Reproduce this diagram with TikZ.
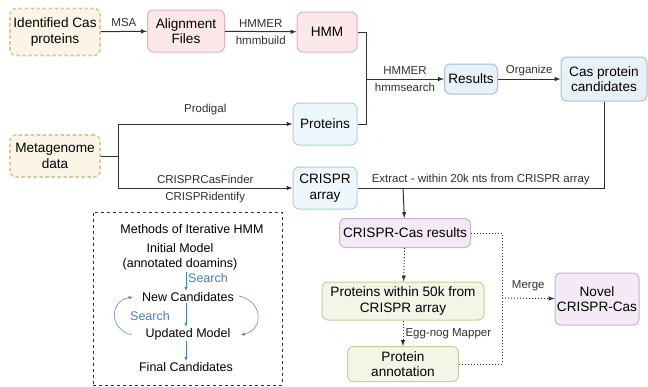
\documentclass[tikz,border=0pt]{standalone}
\usepackage{fontspec}
\setmainfont{Liberation Sans}
\usepackage{tikz}
\usetikzlibrary{arrows}

\definecolor{tanfill}{HTML}{FAF5E6}
\definecolor{tanline}{HTML}{D9C89C}
\definecolor{pinkfill}{HTML}{FCE8EA}
\definecolor{pinkline}{HTML}{E5B2B8}
\definecolor{cyanfill}{HTML}{EEF7FB}
\definecolor{cyanline}{HTML}{A8D3E2}
\definecolor{bluefill}{HTML}{E8F0F8}
\definecolor{blueline}{HTML}{A8C0DA}
\definecolor{purpfill}{HTML}{F3EAF5}
\definecolor{purpline}{HTML}{C8B2D6}
\definecolor{greenfill}{HTML}{F2F6E6}
\definecolor{greenline}{HTML}{C0D29A}
\definecolor{linegray}{HTML}{303030}
\definecolor{searchblue}{HTML}{4A7CC4}

\begin{document}
\begin{tikzpicture}[x=1pt, y=-1pt]
        \tikzstyle{box}  = [draw, rounded corners=6pt, align=center, inner sep=1pt, line width=1pt, font=\fontsize{13.6}{15.5}\selectfont]
        \tikzstyle{src}  = [box, draw=tanline, fill=tanfill, line width=1.6pt, dash pattern=on 3.5pt off 2.5pt]
        \tikzstyle{pnk}  = [box, draw=pinkline, fill=pinkfill]
        \tikzstyle{cyn}  = [box, draw=cyanline, fill=cyanfill]
        \tikzstyle{blu}  = [box, draw=blueline, fill=bluefill]
        \tikzstyle{pur}  = [box, draw=purpline, fill=purpfill]
        \tikzstyle{grn}  = [box, draw=greenline, fill=greenfill]
        \tikzstyle{conn} = [line width=1pt, draw=linegray]
        \tikzstyle{tran} = [conn, ->, >=latex]
        \tikzstyle{dots} = [conn, dotted]
        \tikzstyle{part} = [dots, ->, >=latex]
        \tikzstyle{lbl}  = [font=\fontsize{11.5}{13}\selectfont, text=linegray, inner sep=4pt]
        \tikzstyle{itr}  = [font=\fontsize{12.5}{15}\selectfont, inner sep=1pt, align=center]
        \tikzstyle{srch} = [->, >=latex, draw=searchblue, line width=0.5pt]

        \useasboundingbox (0,0) rectangle (648,386);

        % Input data.
        \node[src, minimum width=90pt, minimum height=47pt] (idcas) at (55,32) {Identified Cas\\proteins};
        \node[src, minimum width=90pt, minimum height=42pt] (meta)  at (55,156) {Metagenome\\data};

        % Model building and search.
        \node[pnk, minimum width=77pt,  minimum height=42pt] (align) at (186,31)  {Alignment\\Files};
        \node[pnk, minimum width=60pt,  minimum height=40pt] (hmm)   at (327,32)  {HMM};
        \node[cyn, minimum width=64pt,  minimum height=42pt] (prot)  at (325,124) {Proteins};
        \node[cyn, minimum width=64pt,  minimum height=42pt] (crispr) at (325,188) {CRISPR\\array};
        \node[blu, minimum width=53pt,  minimum height=30pt] (res)   at (471,79)  {Results};
        \node[blu, minimum width=86pt,  minimum height=44pt] (cand)  at (604,79)  {Cas protein\\candidates};

        % Results and annotation.
        \node[pur, minimum width=131pt, minimum height=29pt] (ccres) at (405,233) {CRISPR-Cas results};
        \node[grn, minimum width=162pt, minimum height=38pt] (p50)   at (403,301) {Proteins within 50k from\\CRISPR array};
        \node[grn, minimum width=111pt, minimum height=35pt] (annot) at (403,364) {Protein\\annotation};
        \node[pur, minimum width=84pt,  minimum height=52pt] (novel) at (597,299) {Novel\\CRISPR-Cas};

        % Junctions.
        \coordinate (j1) at (366,79);
        \coordinate (j2) at (118,156);
        \coordinate (j3) at (403,188);
        \coordinate (j4) at (502,298);

        % Solid connectors.
        \draw[tran] (idcas) -- node[lbl, above]{MSA} (align);
        \draw[tran] (align) -- node[lbl, above]{HMMER} node[lbl, below]{hmmbuild} (hmm);
        \draw[conn] (hmm.east) -| (j1);
        \draw[conn] (prot.east) -| (j1);
        \draw[tran] (j1) -- node[lbl, above]{HMMER} node[lbl, below]{hmmsearch} (res);
        \draw[tran] (res) -- node[lbl, above, inner sep=3pt]{Organize} (cand);
        \draw[conn] (meta) -- (j2);
        \draw[tran] (j2) |- node[lbl, pos=0.75, above=5pt]{Prodigal} (prot);
        \draw[tran] (j2) |- node[lbl, pos=0.75, above]{CRISPRCasFinder} node[lbl, pos=0.75, below]{CRISPRidentify} (crispr);
        \draw[conn] (cand.south) |- node[lbl, pos=0.75, above, inner sep=3pt]{Extract - within 20k nts from CRISPR array} (crispr.east);
        \draw[tran] (j3) -- (ccres);

        % Dotted connectors.
        \draw[part] (ccres) -- (p50);
        \draw[part] (p50) -- node[lbl, right, inner sep=2pt]{Egg-nog Mapper} (annot);
        \draw[dots] (ccres.east) -| (j4);
        \draw[dots] (annot.east) -| (j4);
        \draw[part] (j4) -- node[lbl, above=3pt]{Merge} (novel);

        % Iterative HMM box.
        \node[draw=linegray, dashed, line width=0.9pt, minimum width=189pt, minimum height=173pt, inner sep=0pt] (frame) at (187.5,298.5) {};
        \node[itr] (title) at (192,229) {Methods of Iterative HMM};
        \node[itr] (init)  at (180,257) {Initial Model\\(annotated doamins)};
        \node[itr] (newc)  at (188,297) {New Candidates};
        \node[itr] (upd)   at (188,334) {Updated Model};
        \node[itr] (fin)   at (186,367) {Final Candidates};

        \foreach \a/\b in {init/newc, newc/upd, upd/fin}
            \draw[srch] (\a.south -| fin.north) -- (\b.north -| fin.north);
        \node[itr, text=searchblue] (s1) at (208,278) {Search};
        \node[itr, text=searchblue] (s2) at (150,316) {Search};
        \draw[srch] ([xshift=-13pt, yshift=-1pt]upd.west) to[out=164, in=190, looseness=1.6] ([xshift=-8pt]newc.west);
        \draw[srch] ([xshift=4pt, yshift=1pt]newc.east) to[out=-12, in=13, looseness=1.6] ([xshift=9pt, yshift=-1pt]upd.east);
\end{tikzpicture}
\end{document}
